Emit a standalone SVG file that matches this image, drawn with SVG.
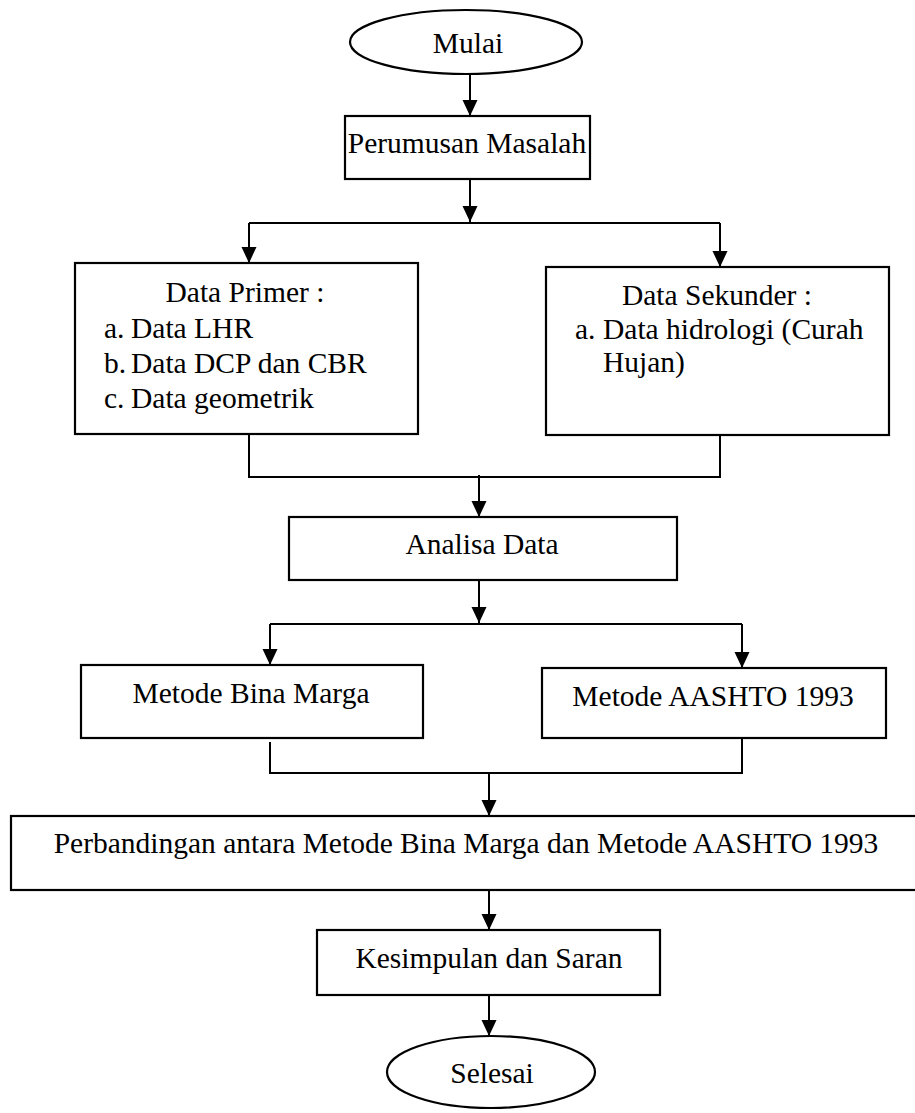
<svg xmlns="http://www.w3.org/2000/svg" width="915" height="1113" viewBox="0 0 915 1113">
<style>
.box{fill:#fff;stroke:#000;stroke-width:2.2}
.ln{fill:none;stroke:#000;stroke-width:2}
.t{font-family:"Liberation Serif","Times New Roman",serif;font-size:29.5px;fill:#000}
.c{text-anchor:middle}
</style>
<defs>
<marker id="ah" markerUnits="userSpaceOnUse" markerWidth="18" markerHeight="16" refX="16" refY="7.5" orient="auto">
<path d="M0,0 L16,7.5 L0,15 Z" fill="#000"/>
</marker>
</defs>
<g id="connectors">
<path class="ln" d="M470,75 V116" marker-end="url(#ah)"/>
<path class="ln" d="M470,179 V222" marker-end="url(#ah)"/>
<path class="ln" d="M249,223 H720"/>
<path class="ln" d="M249,223 V263" marker-end="url(#ah)"/>
<path class="ln" d="M720,223 V267" marker-end="url(#ah)"/>
<path class="ln" d="M249,434 V477 H720 V435"/>
<path class="ln" d="M479,475 V517" marker-end="url(#ah)"/>
<path class="ln" d="M479,580 V623" marker-end="url(#ah)"/>
<path class="ln" d="M270,624 H742"/>
<path class="ln" d="M270,624 V665" marker-end="url(#ah)"/>
<path class="ln" d="M742,624 V668" marker-end="url(#ah)"/>
<path class="ln" d="M270,742 V773 H742 V738"/>
<path class="ln" d="M489,773 V816" marker-end="url(#ah)"/>
<path class="ln" d="M489,890 V930" marker-end="url(#ah)"/>
<path class="ln" d="M489,995 V1036" marker-end="url(#ah)"/>
</g>
<g id="mulai">
<ellipse class="box" cx="466" cy="42" rx="116" ry="32"/>
<text class="t c" x="468" y="53">Mulai</text>
</g>
<g id="perumusan">
<rect class="box" x="345" y="116" width="245" height="63"/>
<text class="t c" x="467" y="153">Perumusan Masalah</text>
</g>
<g id="data-primer">
<rect class="box" x="75" y="263" width="343" height="171"/>
<text class="t c" x="245" y="302">Data Primer :</text>
<text class="t" y="338"><tspan x="104">a.</tspan><tspan x="131">Data LHR</tspan></text>
<text class="t" y="373"><tspan x="104">b.</tspan><tspan x="131">Data DCP dan CBR</tspan></text>
<text class="t" y="408"><tspan x="104">c.</tspan><tspan x="131">Data geometrik</tspan></text>
</g>
<g id="data-sekunder">
<rect class="box" x="546" y="267" width="343" height="168"/>
<text class="t c" x="717" y="305">Data Sekunder :</text>
<text class="t" y="339"><tspan x="575">a.</tspan><tspan x="603">Data hidrologi (Curah</tspan></text>
<text class="t" x="603" y="372">Hujan)</text>
</g>
<g id="analisa">
<rect class="box" x="289" y="517" width="388" height="63"/>
<text class="t c" x="482" y="554">Analisa Data</text>
</g>
<g id="bina-marga">
<rect class="box" x="81" y="665" width="342" height="73"/>
<text class="t c" x="251" y="703">Metode Bina Marga</text>
</g>
<g id="aashto">
<rect class="box" x="542" y="668" width="344" height="70"/>
<text class="t c" x="713" y="706">Metode AASHTO 1993</text>
</g>
<g id="perbandingan">
<rect class="box" x="11" y="816" width="920" height="74"/>
<text class="t c" x="466" y="853">Perbandingan antara Metode Bina Marga dan Metode AASHTO 1993</text>
</g>
<g id="kesimpulan">
<rect class="box" x="317" y="930" width="343" height="65"/>
<text class="t c" x="489" y="968">Kesimpulan dan Saran</text>
</g>
<g id="selesai">
<ellipse class="box" cx="491" cy="1072" rx="104" ry="36"/>
<text class="t c" x="492" y="1083">Selesai</text>
</g>
</svg>
